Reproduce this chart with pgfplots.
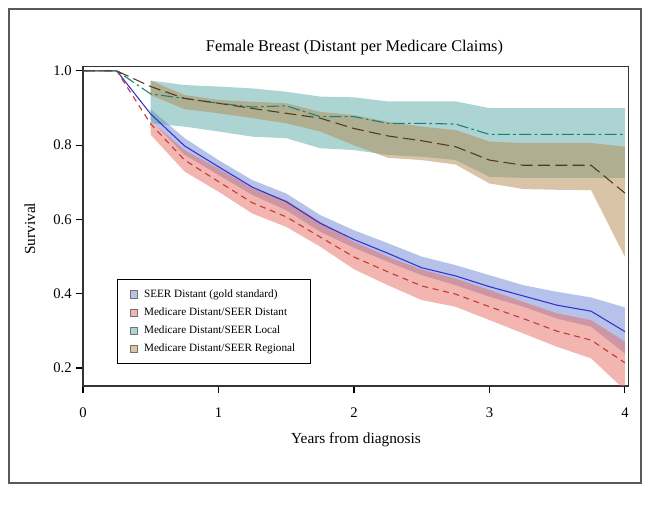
\documentclass[border=0pt]{standalone}
\usepackage{fontspec}
\setmainfont{Liberation Serif}
\usepackage{pgfplots}
\pgfplotsset{compat=1.18}
\usepackage{pgfplotstable}

\definecolor{cB}{RGB}{111,133,213}
\definecolor{cR}{RGB}{229,107,97}
\definecolor{cT}{RGB}{89,169,165}
\definecolor{cN}{RGB}{179,137,81}
\definecolor{lB}{RGB}{50,50,205}
\definecolor{lR}{RGB}{195,55,60}
\definecolor{lT}{RGB}{25,130,120}
\definecolor{lN}{RGB}{85,55,25}

% survival estimates (lines)
\pgfplotstableread{
x B R T N
0 1 1 1 1
0.25 1 1 1 1
0.5 0.884 0.857 0.938 0.958
0.75 0.798 0.760 0.926 0.926
1.0 0.742 0.702 0.913 0.913
1.25 0.687 0.645 0.903 0.899
1.5 0.648 0.607 0.906 0.886
1.75 0.590 0.553 0.877 0.873
2.0 0.546 0.499 0.877 0.845
2.25 0.509 0.459 0.859 0.825
2.5 0.470 0.421 0.859 0.812
2.75 0.448 0.399 0.857 0.796
3.0 0.419 0.365 0.829 0.760
3.25 0.394 0.333 0.829 0.746
3.5 0.369 0.299 0.829 0.746
3.75 0.353 0.275 0.829 0.746
4.0 0.298 0.214 0.829 0.671
}\lines

% confidence bands as closed outlines: upper limit forward, lower limit back
\pgfplotstableread{
x y
0.5 0.897
0.75 0.819
1.0 0.760
1.25 0.706
1.5 0.670
1.75 0.612
2.0 0.571
2.25 0.536
2.5 0.500
2.75 0.477
3.0 0.450
3.25 0.423
3.5 0.405
3.75 0.390
4.0 0.363
4.0 0.239
3.75 0.311
3.5 0.333
3.25 0.365
3.0 0.392
2.75 0.423
2.5 0.450
2.25 0.486
2.0 0.524
1.75 0.567
1.5 0.625
1.25 0.666
1.0 0.720
0.75 0.774
0.5 0.868
}\bandB
\pgfplotstableread{
x y
0.5 0.865
0.75 0.787
1.0 0.737
1.25 0.684
1.5 0.652
1.75 0.594
2.0 0.540
2.25 0.500
2.5 0.465
2.75 0.441
3.0 0.410
3.25 0.378
3.5 0.347
3.75 0.329
4.0 0.271
4.0 0.140
3.75 0.226
3.5 0.257
3.25 0.293
3.0 0.329
2.75 0.365
2.5 0.383
2.25 0.423
2.0 0.466
1.75 0.527
1.5 0.580
1.25 0.616
1.0 0.675
0.75 0.729
0.5 0.828
}\bandR
\pgfplotstableread{
x y
0.5 0.974
0.75 0.962
1.0 0.958
1.25 0.953
1.5 0.944
1.75 0.931
2.0 0.929
2.25 0.918
2.5 0.918
2.75 0.918
3.0 0.900
3.25 0.900
3.5 0.900
3.75 0.900
4.0 0.900
4.0 0.712
3.75 0.712
3.5 0.712
3.25 0.712
3.0 0.715
2.75 0.760
2.5 0.769
2.25 0.774
2.0 0.787
1.75 0.792
1.5 0.819
1.25 0.823
1.0 0.837
0.75 0.850
0.5 0.859
}\bandT
\pgfplotstableread{
x y
0.5 0.974
0.75 0.935
1.0 0.922
1.25 0.917
1.5 0.913
1.75 0.890
2.0 0.881
2.25 0.863
2.5 0.850
2.75 0.841
3.0 0.810
3.25 0.806
3.5 0.806
3.75 0.806
4.0 0.796
4.0 0.499
3.75 0.679
3.5 0.680
3.25 0.682
3.0 0.697
2.75 0.748
2.5 0.760
2.25 0.766
2.0 0.800
1.75 0.837
1.5 0.859
1.25 0.873
1.0 0.886
0.75 0.897
0.5 0.935
}\bandN

\begin{document}
\begin{tikzpicture}
\useasboundingbox (-62.25pt,-97.5pt) rectangle (426pt,289.5pt);
\draw[black!65, line width=0.9pt] (-55.5pt,-72.75pt) rectangle (418.5pt,282.75pt);
\begin{axis}[
  at={(0pt,0pt)}, anchor=south west,
  scale only axis, width=409.1pt, height=239.5pt,
  xmin=0, xmax=4.026, ymin=0.1515, ymax=1.0116,
  xtick={0,1,2,3,4}, ytick={0.2,0.4,0.6,0.8,1.0},
  yticklabel style={/pgf/number format/.cd, fixed, fixed zerofill, precision=1},
  xticklabel style={yshift=-8pt},
  /pgf/number format/assume math mode=true,
  tick align=outside, tick pos=left, major tick length=5pt,
  tick style={black, line width=0.8pt},
  axis line style={black!80, line width=0.9pt},
  tick label style={font=\fontsize{11}{13}\selectfont},
  every axis title shift=0pt,
  title={Female Breast (Distant per Medicare Claims)},
  title style={at={(0.4977,1.0586)}, anchor=center, font=\fontsize{12.25}{15}\selectfont},
  xlabel={Years from diagnosis},
  xlabel style={at={(0.5005,-0.169)}, anchor=center, font=\fontsize{11.5}{14}\selectfont},
  ylabel={Survival},
  ylabel style={at={(-0.0972,0.492)}, anchor=center, font=\fontsize{11.5}{14}\selectfont},
  legend style={at={(0.0623,0.3351)}, anchor=north west, draw=black, line width=0.8pt,
    font=\fontsize{8.4}{10}\selectfont, inner xsep=9.3pt, inner ysep=5.4pt, row sep=2.3pt},
  legend cell align=left,
  legend image code/.code={\draw[#1, line width=0.4pt] (0pt,-2.7pt) rectangle (5.4pt,2.7pt);\path[draw=none,fill=none] (0pt,0pt) -- (8.4pt,0pt);},
]
% bands
\addplot[fill=cB, fill opacity=0.5, draw=none, forget plot] table{\bandB} -- cycle;
\addplot[fill=cR, fill opacity=0.5, draw=none, forget plot] table{\bandR} -- cycle;
\addplot[fill=cT, fill opacity=0.5, draw=none, forget plot] table{\bandT} -- cycle;
\addplot[fill=cN, fill opacity=0.5, draw=none, forget plot] table{\bandN} -- cycle;
% lines
\addplot[lB, line width=0.8pt, forget plot] table[y=B]{\lines};
\addplot[lR, line width=0.8pt, dash pattern=on 4.5pt off 3.5pt, forget plot] table[y=R]{\lines};
\addplot[lT, line width=0.8pt, dash pattern=on 9pt off 2.5pt on 2pt off 2.5pt, forget plot] table[y=T]{\lines};
\addplot[lN, line width=0.8pt, dash pattern=on 9pt off 4pt, forget plot] table[y=N]{\lines};
% legend
\addlegendimage{fill=cB!50!white, draw=black!55}
\addlegendentry{SEER Distant (gold standard)}
\addlegendimage{fill=cR!50!white, draw=black!55}
\addlegendentry{Medicare Distant/SEER Distant}
\addlegendimage{fill=cT!50!white, draw=black!55}
\addlegendentry{Medicare Distant/SEER Local}
\addlegendimage{fill=cN!50!white, draw=black!55}
\addlegendentry{Medicare Distant/SEER Regional}
\end{axis}
\end{tikzpicture}
\end{document}
